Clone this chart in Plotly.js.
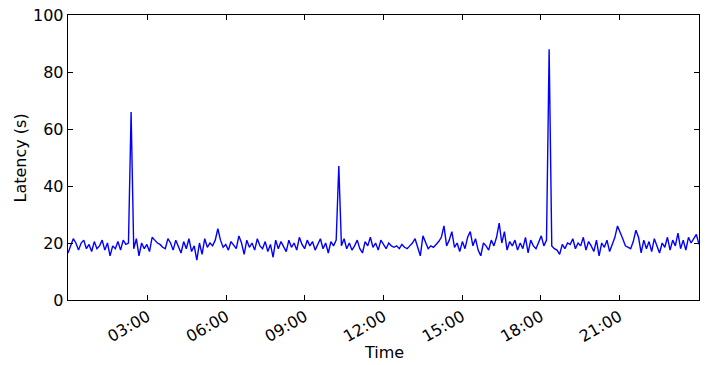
<!DOCTYPE html>
<html>
<head>
<meta charset="utf-8">
<script src="https://cdn.plot.ly/plotly-3.0.1.min.js"></script>
<style>
  html, body { margin: 0; padding: 0; background: #fff; }
  #myDiv { width: 720px; height: 365px; }
</style>
</head>
<body>
<div id="myDiv"></div>
<script>
// samples roughly every 6 minutes over one day
var start_time = '2015-12-31 23:57:36';
var end_time = '2016-01-02 00:02:24';
var step_ms = 361200;

var latency = [
    16.5, 19, 21.5, 20, 17.5, 20, 21, 18, 19.5, 17,
    20.5, 18, 19, 21, 17.5, 20, 15.5, 19, 18, 20.5,
    17.5, 21, 19.5, 20, 66, 18, 21.5, 15.5, 20, 18,
    19.5, 17, 22, 21, 20, 19.5, 18.5, 18, 21.5, 20,
    17.5, 21, 19, 16.5, 20.5, 18, 21.5, 17, 19, 14,
    20, 16, 21.5, 18.5, 20, 19, 21, 25, 21, 18.5,
    19.5, 17.5, 20.5, 19, 18, 22.5, 20, 16, 21, 18.5,
    20, 17.5, 21.5, 19, 18, 20.5, 17, 19.5, 15, 21,
    18, 20.5, 19, 17, 21, 18.5, 20, 17.5, 22, 19.5,
    18, 21, 19, 20.5, 17.5, 19.5, 21.5, 18, 20, 16.5,
    20.5, 19, 21, 47, 19, 21.5, 18, 20, 17.5, 19,
    21, 18, 16.5, 20.5, 19, 22, 18.5, 20, 17.5, 21,
    19.5, 18, 20, 19, 18.5, 19, 18, 19.5, 18.5, 18,
    19, 20, 21.5, 18.5, 15.5, 22.5, 20.5, 18, 19, 18.5,
    19.5, 20.5, 22, 26, 19, 21, 24, 18.5, 20, 17,
    20.5, 18, 22, 24, 19, 21.5, 17.5, 15.5, 20, 19,
    17.5, 21, 19, 22, 27, 20, 24, 17.5, 20.5, 19,
    21, 17.5, 20, 18, 22, 16.5, 21, 19, 18, 20.5,
    22.5, 19, 21, 88, 19, 18, 17.5, 16, 19.5, 18,
    20, 19.5, 21.5, 18, 20, 19, 22, 17.5, 20.5, 19,
    17, 21, 15.5, 20, 18.5, 21, 17, 19.5, 22, 26,
    24, 21.5, 19, 18.5, 18, 20.5, 24.5, 22, 16.5, 21,
    18, 20.5, 17, 21.5, 19, 16.5, 20, 18.5, 22, 17.5,
    21, 19, 23.5, 18, 21, 17.5, 22, 20, 21.5, 23,
    19.5
];

var tick_vals = ['2016-01-01 03:00', '2016-01-01 06:00', '2016-01-01 09:00',
                 '2016-01-01 12:00', '2016-01-01 15:00', '2016-01-01 18:00',
                 '2016-01-01 21:00'];
var tick_text = ['03:00', '06:00', '09:00', '12:00', '15:00', '18:00', '21:00'];

var trace1 = {
    x0: start_time,
    dx: step_ms,
    y: latency,
    type: 'scatter',
    mode: 'lines',
    line: { color: '#0000ff', width: 1.4 },
    hoverinfo: 'skip'
};

var axis_font = { family: 'DejaVu Sans', size: 16, color: 'black' };

var layout = {
    width: 720,
    height: 365,
    margin: { l: 68, r: 21, t: 15, b: 65 },
    paper_bgcolor: 'white',
    plot_bgcolor: 'white',
    showlegend: false,
    font: axis_font,
    xaxis: {
        type: 'date',
        range: [start_time, end_time],
        tickvals: tick_vals,
        ticktext: tick_text,
        tickangle: -30,
        tickfont: axis_font,
        ticks: 'inside',
        ticklen: 5,
        tickcolor: 'black',
        showline: true,
        linecolor: 'black',
        linewidth: 1.3,
        mirror: 'ticks',
        showgrid: false,
        zeroline: false
    },
    yaxis: {
        range: [0, 100],
        tickvals: [0, 20, 40, 60, 80, 100],
        tickfont: axis_font,
        ticks: 'inside',
        ticklen: 5,
        tickcolor: 'black',
        showline: true,
        linecolor: 'black',
        linewidth: 1.3,
        mirror: 'ticks',
        showgrid: false,
        zeroline: false
    },
    // axis titles placed as annotations to match the original spacing
    annotations: [
        {
            text: 'Time', xref: 'paper', yref: 'paper',
            x: 0.5, y: -0.1825, xanchor: 'center', yanchor: 'middle',
            showarrow: false, font: axis_font
        },
        {
            text: 'Latency (s)', xref: 'paper', yref: 'paper',
            x: -0.0745, y: 0.5, xanchor: 'center', yanchor: 'middle',
            textangle: -90, showarrow: false, font: axis_font
        }
    ]
};

Plotly.newPlot('myDiv', [trace1], layout, { staticPlot: true, displayModeBar: false });
</script>
</body>
</html>
